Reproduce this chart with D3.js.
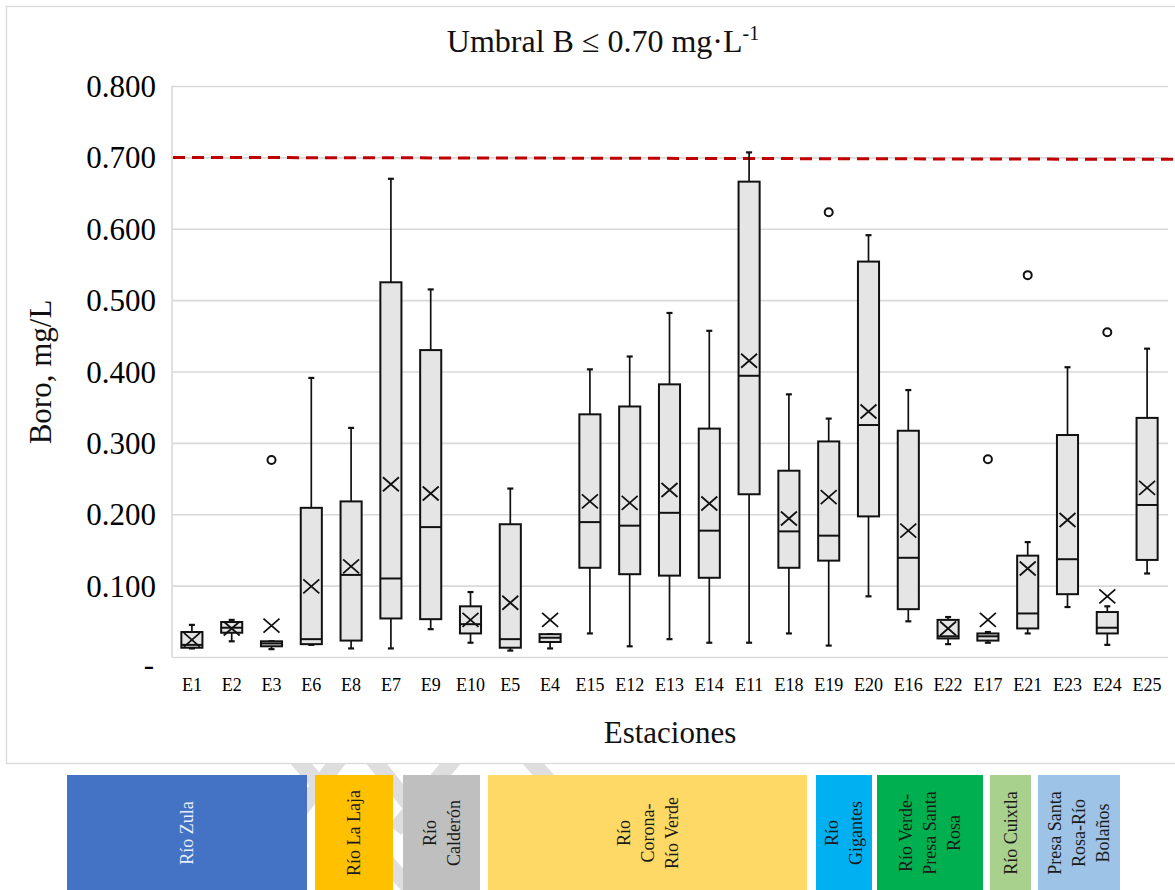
<!DOCTYPE html>
<html>
<head>
<meta charset="utf-8">
<script src="https://cdn.jsdelivr.net/npm/d3@7/dist/d3.min.js"></script>
<style>
  html, body { margin: 0; padding: 0; background: #ffffff; }
  svg { display: block; }
  text { font-family: "Liberation Serif", "Times New Roman", serif; }
</style>
</head>
<body>
<svg id="chart" width="1175" height="890"></svg>
<script>
// Stations in the order they are plotted along the river system
const stations = ["E1","E2","E3","E6","E8","E7","E9","E10","E5","E4","E15","E12","E13",
                  "E14","E11","E18","E19","E20","E16","E22","E17","E21","E23","E24","E25"];

// Box-plot statistics for boron (mg/L) at each station
const whiskerLow  = [0.012,0.022,0.011,0.017,0.012,0.012,0.039,0.020,0.009,0.012,0.033,0.015,0.025,
                     0.020,0.020,0.033,0.016,0.085,0.050,0.018,0.020,0.033,0.070,0.017,0.117];
const q1          = [0.013,0.034,0.015,0.018,0.023,0.054,0.053,0.033,0.013,0.021,0.125,0.116,0.114,
                     0.111,0.228,0.125,0.135,0.197,0.067,0.026,0.023,0.040,0.088,0.033,0.136];
const median      = [0.017,0.041,0.019,0.025,0.115,0.110,0.182,0.046,0.025,0.027,0.189,0.184,0.202,
                     0.177,0.394,0.176,0.170,0.325,0.139,0.029,0.029,0.061,0.137,0.041,0.213];
const q3          = [0.035,0.049,0.022,0.209,0.218,0.525,0.430,0.071,0.186,0.032,0.340,0.351,0.382,
                     0.320,0.666,0.261,0.302,0.554,0.317,0.052,0.033,0.142,0.311,0.063,0.335];
const whiskerHigh = [0.045,0.052,0.022,0.391,0.321,0.670,0.515,0.091,0.236,0.032,0.403,0.421,0.482,
                     0.457,0.707,0.368,0.334,0.591,0.374,0.056,0.035,0.161,0.406,0.071,0.432];
const mean        = [0.024,0.040,0.044,0.099,0.127,0.242,0.229,0.052,0.076,0.052,0.218,0.216,0.234,
                     0.215,0.415,0.194,0.224,0.344,0.177,0.040,0.052,0.124,0.192,0.085,0.237];

// Outlying samples
const outlierStation = ["E3","E19","E17","E21","E24"];
const outlierValue   = [0.276,0.623,0.277,0.535,0.455];

// Boron threshold (mg/L)
const threshold = 0.70;

// Y axis ticks
const yTicks = [0,0.1,0.2,0.3,0.4,0.5,0.6,0.7,0.8];

// River reaches shown as coloured strips under the chart
const groupNames  = [["Río Zula"],["Río La Laja"],["Río","Calderón"],["Río","Corona-","Río Verde"],
                     ["Río","Gigantes"],["Río Verde-","Presa Santa","Rosa"],["Río Cuixtla"],
                     ["Presa Santa","Rosa-Río","Bolaños"]];
const groupColors = ["#4472C4","#FFC000","#BFBFBF","#FFD966","#00B0F0","#00B050","#A9D18E","#9DC3E6"];
const groupText   = ["#E8EEF8","#1a1a1a","#1a1a1a","#1a1a1a","#1a1a1a","#1a1a1a","#1a1a1a","#1a1a1a"];

// ---- layout ----
const W = 1175, H = 890;
const plot = { left: 172, right: 1167, top: 86, bottom: 657 };
const stripTop = 775;
const stripSpans = [[67,307],[315,393],[403,480],[488,807],[816,872],[877,983],[990,1031],[1038,1120]];

const svg = d3.select("#chart");

const x = d3.scaleBand().domain(stations).range([plot.left, plot.right]).paddingInner(0).paddingOuter(0);
const y = d3.scaleLinear().domain([0, 0.8]).range([plot.bottom, plot.top]);
const boxW = x.bandwidth() * 0.53;

// decorative grey bands behind the strips
const deco = svg.append("g").attr("stroke", "#dedede").attr("stroke-width", 16).attr("fill", "none");
[[[296,758],[420,900]],[[340,758],[270,850]],[[372,758],[470,880]],[[528,758],[575,810]],[[455,758],[395,830]]]
  .forEach(p => deco.append("line").attr("x1", p[0][0]).attr("y1", p[0][1]).attr("x2", p[1][0]).attr("y2", p[1][1]));

// chart frame
svg.append("rect").attr("x", 6.5).attr("y", 6.5).attr("width", W + 10).attr("height", 757)
  .attr("fill", "#ffffff").attr("stroke", "#d9d9d9").attr("stroke-width", 1.3);

// horizontal gridlines
svg.append("g")
  .attr("transform", `translate(${plot.left},0)`)
  .call(d3.axisLeft(y).tickValues(yTicks).tickSize(-(plot.right - plot.left + 1)).tickFormat(""))
  .call(g => g.select(".domain").remove())
  .call(g => g.selectAll("line").attr("stroke", "#d9d9d9").attr("stroke-width", 1.6));

// left axis line
svg.append("line").attr("x1", plot.left).attr("x2", plot.left).attr("y1", y(0.8)).attr("y2", y(0))
  .attr("stroke", "#d9d9d9").attr("stroke-width", 1.6);

// y tick labels
svg.append("g")
  .attr("transform", `translate(${plot.left},0)`)
  .call(d3.axisLeft(y).tickValues(yTicks).tickSize(0).tickPadding(16)
        .tickFormat(v => v === 0 ? "-" : d3.format(".3f")(v)))
  .call(g => g.select(".domain").remove())
  .call(g => g.selectAll("text").attr("font-size", 31).attr("fill", "#000")
              .attr("font-family", "Liberation Serif, serif")
              .attr("dx", v => v === 0 ? -2 : 0)
              .attr("dy", v => v === 0 ? "0.55em" : "0.34em"));

// x tick labels
svg.append("g")
  .attr("transform", `translate(0,${plot.bottom})`)
  .call(d3.axisBottom(x).tickSize(0).tickPadding(21))
  .call(g => g.select(".domain").remove())
  .call(g => g.selectAll("text").attr("font-size", 18).attr("fill", "#000")
              .attr("font-family", "Liberation Serif, serif"));

// threshold line
svg.append("line")
  .attr("x1", plot.left + 1).attr("x2", W)
  .attr("y1", y(threshold)).attr("y2", y(threshold) + 2)
  .attr("stroke", "#C00000").attr("stroke-width", 3).attr("stroke-dasharray", "12,7");

// box plots
const rows = stations.map((s, i) => ({ s, lo: whiskerLow[i], q1: q1[i], med: median[i], q3: q3[i], hi: whiskerHigh[i], mean: mean[i] }));
const boxes = svg.append("g").selectAll("g").data(rows).join("g")
  .attr("transform", d => `translate(${x(d.s) + x.bandwidth() / 2},0)`);

boxes.append("line").attr("x1", 0).attr("x2", 0).attr("y1", d => y(d.hi)).attr("y2", d => y(d.lo))
  .attr("stroke", "#111").attr("stroke-width", 1.7);
boxes.append("line").attr("x1", -3).attr("x2", 3).attr("y1", d => y(d.hi)).attr("y2", d => y(d.hi))
  .attr("stroke", "#111").attr("stroke-width", 2.2);
boxes.append("line").attr("x1", -3).attr("x2", 3).attr("y1", d => y(d.lo)).attr("y2", d => y(d.lo))
  .attr("stroke", "#111").attr("stroke-width", 2.2);
boxes.append("rect").attr("x", -boxW / 2).attr("width", boxW)
  .attr("y", d => y(d.q3)).attr("height", d => y(d.q1) - y(d.q3))
  .attr("fill", "#e5e5e5").attr("stroke", "#111").attr("stroke-width", 2);
boxes.append("line").attr("x1", -boxW / 2).attr("x2", boxW / 2).attr("y1", d => y(d.med)).attr("y2", d => y(d.med))
  .attr("stroke", "#111").attr("stroke-width", 2);
// mean marker
boxes.append("path")
  .attr("d", d => { const c = y(d.mean); return `M-8,${c - 7}L8,${c + 7}M-8,${c + 7}L8,${c - 7}`; })
  .attr("stroke", "#111").attr("stroke-width", 1.8).attr("fill", "none");

// outliers
svg.append("g").selectAll("circle").data(outlierStation.map((s, i) => ({ s, v: outlierValue[i] }))).join("circle")
  .attr("cx", d => x(d.s) + x.bandwidth() / 2).attr("cy", d => y(d.v)).attr("r", 4)
  .attr("fill", "#fff").attr("stroke", "#111").attr("stroke-width", 2);

// titles
svg.append("text").attr("x", 603).attr("y", 52).attr("text-anchor", "middle").attr("font-size", 32)
  .attr("fill", "#111")
  .call(t => { t.append("tspan").text("Umbral B ≤ 0.70 mg·L");
               t.append("tspan").attr("font-size", 20).attr("dy", -12).text("-1"); });

svg.append("text").attr("transform", "translate(51,372) rotate(-90)").attr("text-anchor", "middle")
  .attr("font-size", 31).attr("fill", "#111").text("Boro, mg/L");

svg.append("text").attr("x", 670).attr("y", 743).attr("text-anchor", "middle")
  .attr("font-size", 31).attr("fill", "#111").text("Estaciones");

// river reach strips
const strips = svg.append("g").selectAll("g").data(groupNames.map((n, i) => ({ n, i }))).join("g");
strips.append("rect")
  .attr("x", d => stripSpans[d.i][0]).attr("width", d => stripSpans[d.i][1] - stripSpans[d.i][0])
  .attr("y", stripTop).attr("height", H - stripTop + 5)
  .attr("fill", d => groupColors[d.i]);
strips.append("text")
  .attr("transform", d => `translate(${(stripSpans[d.i][0] + stripSpans[d.i][1]) / 2},833) rotate(-90)`)
  .attr("text-anchor", "middle").attr("font-size", 18)
  .attr("fill", d => groupText[d.i])
  .each(function (d) {
    const lines = d.n, lh = 24, t = d3.select(this);
    lines.forEach((l, k) => t.append("tspan").attr("x", 0)
      .attr("y", (k - (lines.length - 1) / 2) * lh).attr("dy", "0.35em").text(l));
  });
</script>
</body>
</html>
